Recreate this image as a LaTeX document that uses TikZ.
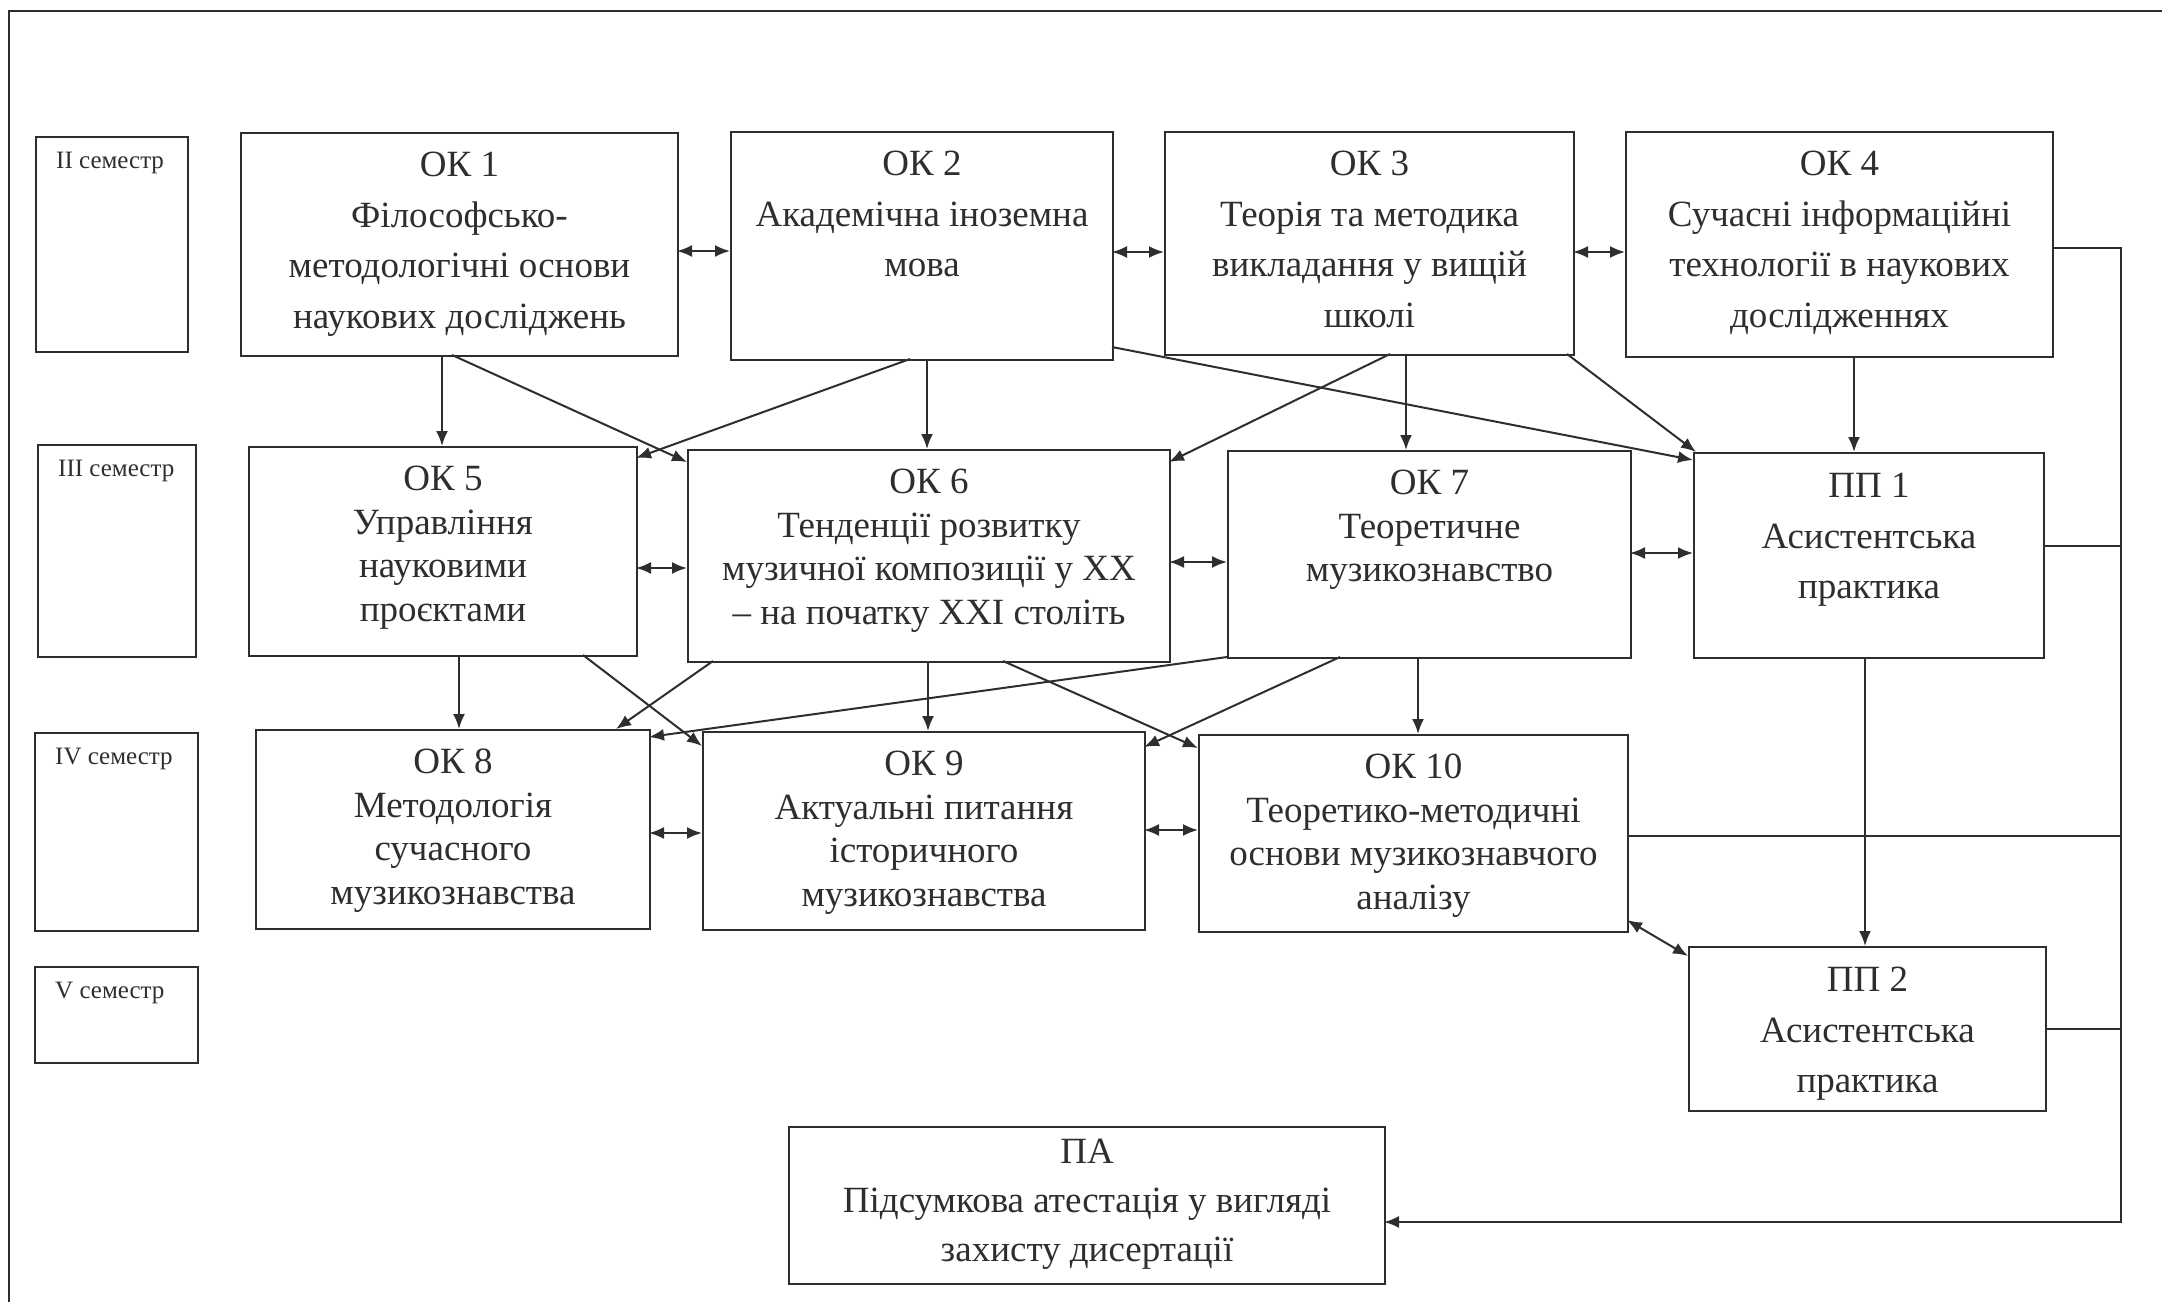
\documentclass[tikz,border=0pt]{standalone}
\usepackage{fontspec}
\setmainfont{Liberation Serif}
\usetikzlibrary{calc,arrows.meta}
\definecolor{ink}{HTML}{2E2E2E}
\begin{document}
\begin{tikzpicture}[x=1pt,y=-1pt,
 box/.style={draw=ink,line width=2pt,inner sep=0pt,anchor=north west},
 txt/.style={inner sep=0pt,anchor=north,align=center,text=ink},
 wide/.style={font=\fontsize{37}{50.5}\selectfont},
 tight/.style={font=\fontsize{37}{43.5}\selectfont},
 sem/.style={inner sep=0pt,anchor=base west,text=ink,font=\fontsize{25}{30}\selectfont},
 conn/.style={draw=ink,line width=2pt},
 arr/.style={conn,-{Latex[length=15pt,width=12pt]}},
 darr/.style={conn,{Latex[length=15pt,width=12pt]}-{Latex[length=15pt,width=12pt]}},
]
\path[use as bounding box,fill=white] (0,0) rectangle (2162,1302);
% frame (scan edge)
\coordinate (frTR) at (2162,11);
\coordinate (frTL) at (9,11);
\coordinate (frBL) at (9,1302);
\draw[conn] (frTR) -- (frTL) -- (frBL);

% semester boxes
\node[box,minimum width=152pt,minimum height=215pt] (s2) at (35,136) {};
\node[box,minimum width=158pt,minimum height=212pt] (s3) at (37,444) {};
\node[box,minimum width=163pt,minimum height=198pt] (s4) at (34,732) {};
\node[box,minimum width=163pt,minimum height=96pt] (s5) at (34,966) {};
\node[sem] (s2t) at ($(s2.north west)+(21,32)$) {II семестр};
\node[sem] (s3t) at ($(s3.north west)+(21,32)$) {III семестр};
\node[sem] (s4t) at ($(s4.north west)+(21,32)$) {IV семестр};
\node[sem] (s5t) at ($(s5.north west)+(21,32)$) {V семестр};

% course boxes
\node[box,minimum width=437pt,minimum height=223pt] (ok1) at (240,132) {};
\node[box,minimum width=382pt,minimum height=228pt] (ok2) at (730,131) {};
\node[box,minimum width=409pt,minimum height=223pt] (ok3) at (1164,131) {};
\node[box,minimum width=427pt,minimum height=225pt] (ok4) at (1625,131) {};
\node[box,minimum width=388pt,minimum height=209pt] (ok5) at (248,446) {};
\node[box,minimum width=482pt,minimum height=212pt] (ok6) at (687,449) {};
\node[box,minimum width=403pt,minimum height=207pt] (ok7) at (1227,450) {};
\node[box,minimum width=350pt,minimum height=205pt] (pp1) at (1693,452) {};
\node[box,minimum width=394pt,minimum height=199pt] (ok8) at (255,729) {};
\node[box,minimum width=442pt,minimum height=198pt] (ok9) at (702,731) {};
\node[box,minimum width=429pt,minimum height=197pt] (ok10) at (1198,734) {};
\node[box,minimum width=357pt,minimum height=164pt] (pp2) at (1688,946) {};
\node[box,minimum width=596pt,minimum height=157pt] (pa) at (788,1126) {};

% texts
\node[txt,wide] (ok1t) at ($(ok1.north)+(0,20)$) {ОК 1\\Філософсько-\\методологічні основи\\наукових досліджень};
\node[txt,wide] (ok2t) at ($(ok2.north)+(0,20)$) {ОК 2\\Академічна іноземна\\мова};
\node[txt,wide] (ok3t) at ($(ok3.north)+(0,20)$) {ОК 3\\Теорія та методика\\викладання у вищій\\школі};
\node[txt,wide] (ok4t) at ($(ok4.north)+(0,20)$) {ОК 4\\Сучасні інформаційні\\технології в наукових\\дослідженнях};
\node[txt,tight] (ok5t) at ($(ok5.north)+(0,20)$) {ОК 5\\Управління\\науковими\\проєктами};
\node[txt,tight] (ok6t) at ($(ok6.north)+(0,20)$) {ОК 6\\Тенденції розвитку\\музичної композиції у XX\\– на початку XXI століть};
\node[txt,tight] (ok7t) at ($(ok7.north)+(0,20)$) {ОК 7\\Теоретичне\\музикознавство};
\node[txt,wide] (pp1t) at ($(pp1.north)+(0,21)$) {ПП 1\\Асистентська\\практика};
\node[txt,tight] (ok8t) at ($(ok8.north)+(0,20)$) {ОК 8\\Методологія\\сучасного\\музикознавства};
\node[txt,tight] (ok9t) at ($(ok9.north)+(0,20)$) {ОК 9\\Актуальні питання\\історичного\\музикознавства};
\node[txt,tight] (ok10t) at ($(ok10.north)+(0,20)$) {ОК 10\\Теоретико-методичні\\основи музикознавчого\\аналізу};
\node[txt,wide] (pp2t) at ($(pp2.north)+(0,21)$) {ПП 2\\Асистентська\\практика};
\node[txt,font=\fontsize{37}{49}\selectfont] (pat) at ($(pa.north)+(0,13)$) {ПА\\Підсумкова атестація у вигляді\\захисту дисертації};

% row 1 horizontal links
\draw[darr] ($(ok1.north west)+(437,119)$) -- ($(ok2.north west)+(0,120)$);
\draw[darr] ($(ok2.north west)+(382,121)$) -- ($(ok3.north west)+(0,121)$);
\draw[darr] ($(ok3.north west)+(409,121)$) -- ($(ok4.north west)+(0,121)$);
% row 1 -> row 2
\draw[arr] ($(ok1.north west)+(202,223)$) -- ($(ok5.north west)+(194,0)$);
\draw[arr] ($(ok1.north west)+(212,223)$) -- ($(ok6.north west)+(0,13)$);
\draw[arr] ($(ok2.north west)+(180,228)$) -- ($(ok5.north west)+(388,12)$);
\draw[arr] ($(ok2.north west)+(197,228)$) -- ($(ok6.north west)+(240,0)$);
\draw[arr] ($(ok2.north west)+(382,216)$) -- ($(pp1.north west)+(0,8)$);
\draw[arr] ($(ok3.north west)+(226,223)$) -- ($(ok6.north west)+(482,13)$);
\draw[arr] ($(ok3.north west)+(242,223)$) -- ($(ok7.north west)+(179,0)$);
\draw[arr] ($(ok3.north west)+(403,223)$) -- ($(pp1.north west)+(3,0)$);
\draw[arr] ($(ok4.north west)+(229,225)$) -- ($(pp1.north west)+(161,0)$);
% row 2 horizontal links
\draw[darr] ($(ok5.north west)+(388,122)$) -- ($(ok6.north west)+(0,119)$);
\draw[darr] ($(ok6.north west)+(482,113)$) -- ($(ok7.north west)+(0,112)$);
\draw[darr] ($(ok7.north west)+(403,103)$) -- ($(pp1.north west)+(0,101)$);
% row 2 -> row 3
\draw[arr] ($(ok5.north west)+(211,209)$) -- ($(ok8.north west)+(204,0)$);
\draw[arr] ($(ok5.north west)+(335,209)$) -- ($(ok9.north west)+(0,15)$);
\draw[arr] ($(ok6.north west)+(26,212)$) -- ($(ok8.north west)+(361,0)$);
\draw[arr] ($(ok6.north west)+(241,212)$) -- ($(ok9.north west)+(226,0)$);
\draw[arr] ($(ok6.north west)+(316,212)$) -- ($(ok10.north west)+(0,14)$);
\draw[arr] ($(ok7.north west)+(0,207)$) -- ($(ok8.north west)+(394,8)$);
\draw[arr] ($(ok7.north west)+(113,207)$) -- ($(ok9.north west)+(442,16)$);
\draw[arr] ($(ok7.north west)+(191,207)$) -- ($(ok10.north west)+(220,0)$);
\draw[arr] ($(pp1.north west)+(172,205)$) -- ($(pp2.north west)+(177,0)$);
% row 3 horizontal links
\draw[darr] ($(ok8.north west)+(394,104)$) -- ($(ok9.north west)+(0,102)$);
\draw[darr] ($(ok9.north west)+(442,99)$) -- ($(ok10.north west)+(0,96)$);
\draw[darr] ($(ok10.north west)+(429,186)$) -- ($(pp2.north west)+(0,10)$);
% right bus to final attestation
\coordinate (busT) at (2121,248);
\draw[conn] ($(pp1.north west)+(350,94)$) -- (busT |- {$(pp1.north west)+(350,94)$});
\draw[conn] ($(ok10.north west)+(429,102)$) -- (busT |- {$(ok10.north west)+(429,102)$});
\draw[conn] ($(pp2.north west)+(357,83)$) -- (busT |- {$(pp2.north west)+(357,83)$});
\draw[arr] ($(ok4.north west)+(427,117)$) -- (busT) |- ($(pa.north west)+(596,96)$);
\end{tikzpicture}
\end{document}
